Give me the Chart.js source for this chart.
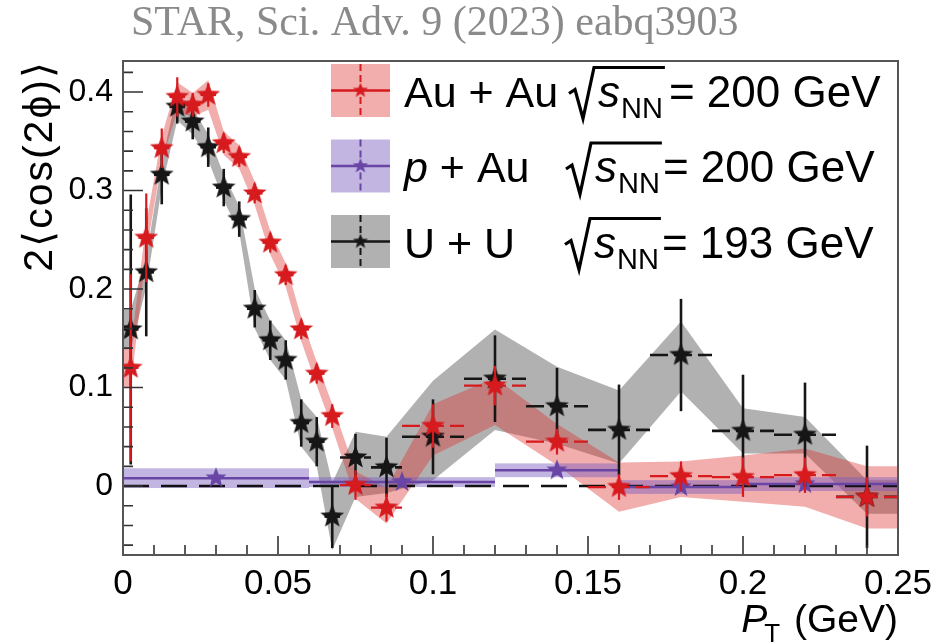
<!DOCTYPE html>
<html>
<head>
<meta charset="utf-8">
<script src="https://cdn.jsdelivr.net/npm/chart.js@4.4.0/dist/chart.umd.min.js"></script>
<style>
  html, body { margin: 0; padding: 0; background: #fff; }
  #wrap { width: 948px; height: 644px; }
</style>
</head>
<body>
<div id="wrap"><canvas id="grafico" width="948" height="644"></canvas></div>
<script>
// pT bins (GeV) shared by Au+Au and U+U
const pT = [0.0025, 0.0075, 0.0125, 0.0175, 0.0225, 0.0275, 0.0325, 0.0375, 0.0425, 0.0475,
  0.0525, 0.0575, 0.0625, 0.0675, 0.075, 0.085, 0.1, 0.12, 0.14, 0.16, 0.18, 0.2, 0.22, 0.24];
const pTErr = [0.0025, 0.0025, 0.0025, 0.0025, 0.0025, 0.0025, 0.0025, 0.0025, 0.0025, 0.0025,
  0.0025, 0.0025, 0.0025, 0.0025, 0.005, 0.005, 0.01, 0.01, 0.01, 0.01, 0.01, 0.01, 0.01, 0.01];

// Au+Au 200 GeV
const auau = [0.120, 0.252, 0.343, 0.395, 0.387, 0.397, 0.348, 0.334, 0.297, 0.247,
  0.214, 0.159, 0.114, 0.071, 0.001, -0.022, 0.061, 0.102, 0.045, -0.001, 0.010, 0.009, 0.011, -0.011];
const auauStat = [0.095, 0.045, 0.02, 0.02, 0.012, 0.012, 0.01, 0.01, 0.01, 0.01,
  0.01, 0.01, 0.01, 0.012, 0.015, 0.014, 0.022, 0.02, 0.013, 0.013, 0.015, 0.02, 0.018, 0.02];
const auauSysUp = [0.02, 0.015, 0.012, 0.015, 0.012, 0.015, 0.012, 0.012, 0.012, 0.012,
  0.012, 0.012, 0.012, 0.012, 0.014, 0.02, 0.022, 0.008, 0.018, 0.025, 0.015, 0.022, 0.027, 0.031];
const auauSysDown = [0.02, 0.015, 0.012, 0.015, 0.012, 0.015, 0.012, 0.012, 0.012, 0.012,
  0.012, 0.012, 0.012, 0.012, 0.014, 0.016, 0.03, 0.04, 0.024, 0.025, 0.021, 0.025, 0.032, 0.032];

// U+U 193 GeV
const uu = [0.159, 0.217, 0.316, 0.385, 0.370, 0.344, 0.303, 0.271, 0.180, 0.148,
  0.128, 0.064, 0.045, -0.031, 0.029, 0.019, 0.050, 0.109, 0.081, 0.057, 0.133, 0.056, 0.052, -0.011];
const uuStat = [0.137, 0.065, 0.03, 0.017, 0.018, 0.02, 0.019, 0.018, 0.019, 0.02,
  0.02, 0.024, 0.025, 0.032, 0.024, 0.03, 0.038, 0.044, 0.039, 0.046, 0.057, 0.057, 0.053, 0.052];
const uuSysUp = [0.02, 0.015, 0.013, 0.014, 0.013, 0.013, 0.013, 0.013, 0.02, 0.02,
  0.02, 0.024, 0.025, 0.034, 0.026, 0.031, 0.057, 0.05, 0.04, 0.04, 0.034, 0.023, 0.018, 0.017];
const uuSysDown = [0.02, 0.015, 0.013, 0.014, 0.013, 0.013, 0.013, 0.013, 0.02, 0.02,
  0.02, 0.024, 0.025, 0.034, 0.04, 0.026, 0.044, 0.052, 0.038, 0.034, 0.037, 0.023, 0.019, 0.017];

// p+Au 200 GeV, wide bins
const pAuX = [0.03, 0.09, 0.14, 0.18, 0.22];
const pAuLo = [0, 0.06, 0.12, 0.16, 0.2];
const pAuHi = [0.06, 0.12, 0.16, 0.2, 0.25];
const pAu = [0.008, 0.004, 0.016, -0.001, 0.002];
const pAuStat = [0.004, 0.004, 0.005, 0.005, 0.005];
const pAuSys = [0.01, 0.005, 0.007, 0.007, 0.007];

const xTicks = [0, 0.05, 0.1, 0.15, 0.2, 0.25];
const xTickLabels = ['0', '0.05', '0.1', '0.15', '0.2', '0.25'];
const yTicks = [0, 0.1, 0.2, 0.3, 0.4];
const yTickLabels = ['0', '0.1', '0.2', '0.3', '0.4'];

const vermelho = 'rgb(214,26,30)';
const roxo = 'rgb(105,70,165)';
const preto = 'rgb(22,22,22)';
const rosaBanda = 'rgba(220,40,40,0.38)';
const cinzaBanda = 'rgba(100,100,100,0.5)';
const roxoBanda = 'rgba(120,90,190,0.45)';
const fonte = '"Liberation Sans", Arial, Helvetica, sans-serif';

Chart.defaults.font.family = fonte;
Chart.defaults.color = '#000';

// estrela de 5 pontas usada como marcador
function estrela(cor, r) {
  const c = document.createElement('canvas');
  const s = Math.ceil(2 * r + 2);
  c.width = s;
  c.height = s;
  const g = c.getContext('2d');
  g.translate(s / 2, s / 2);
  g.beginPath();
  for (let i = 0; i < 10; i++) {
    const rr = i % 2 === 0 ? r : r * 0.42;
    const a = -Math.PI / 2 + i * Math.PI / 5;
    g.lineTo(rr * Math.cos(a), rr * Math.sin(a));
  }
  g.closePath();
  g.fillStyle = cor;
  g.fill();
  return c;
}

// banda sistematica, estendida ate as bordas do primeiro e ultimo bin
function banda(x, xe, y, up, down) {
  const n = x.length;
  const xs = [x[0] - xe[0]].concat(x, [x[n - 1] + xe[n - 1]]);
  const idx = [0].concat(x.map((v, i) => i), [n - 1]);
  return {
    alto: xs.map((v, k) => ({ x: v, y: y[idx[k]] + up[idx[k]] })),
    baixo: xs.map((v, k) => ({ x: v, y: y[idx[k]] - down[idx[k]] })),
  };
}

const bandaAu = banda(pT, pTErr, auau, auauSysUp, auauSysDown);
const bandaUU = banda(pT, pTErr, uu, uuSysUp, uuSysDown);

const pontos = (x, y) => x.map((v, i) => ({ x: v, y: y[i] }));

// barras de erro por dataset
const erros = {
  0: { x: pT, xe: pTErr, y: auau, ye: auauStat, cor: vermelho, largura: 2.2 },
  1: { x: pT, xe: pTErr, y: uu, ye: uuStat, cor: preto, largura: 2.6 },
};

function desenhaErros(ctx, xs, ys, e) {
  ctx.strokeStyle = e.cor;
  ctx.lineWidth = e.largura;
  e.x.forEach((v, i) => {
    const px = xs.getPixelForValue(v);
    const py = ys.getPixelForValue(e.y[i]);
    ctx.setLineDash([]);
    ctx.beginPath();
    ctx.moveTo(px, ys.getPixelForValue(e.y[i] + e.ye[i]));
    ctx.lineTo(px, ys.getPixelForValue(e.y[i] - e.ye[i]));
    ctx.stroke();
    ctx.setLineDash([18, 6]);
    ctx.beginPath();
    ctx.moveTo(xs.getPixelForValue(v - e.xe[i]), py);
    ctx.lineTo(xs.getPixelForValue(v + e.xe[i]), py);
    ctx.stroke();
  });
  ctx.setLineDash([]);
}

const barrasErro = {
  id: 'barrasErro',
  beforeDatasetDraw(chart, args) {
    const { ctx, chartArea: a, scales: { x, y } } = chart;
    ctx.save();
    ctx.beginPath();
    ctx.rect(a.left, a.top, a.width, a.height);
    ctx.clip();
    if (args.index === 2) {
      // caixas p+Au, linha do zero e barras
      ctx.fillStyle = roxoBanda;
      pAuX.forEach((v, i) => {
        const x0 = x.getPixelForValue(pAuLo[i]);
        const x1 = x.getPixelForValue(pAuHi[i]);
        const y0 = y.getPixelForValue(pAu[i] + pAuSys[i]);
        const y1 = y.getPixelForValue(pAu[i] - pAuSys[i]);
        ctx.fillRect(x0, y0, x1 - x0, y1 - y0);
      });
      ctx.strokeStyle = '#111';
      ctx.lineWidth = 2.5;
      ctx.setLineDash([26, 12]);
      ctx.beginPath();
      ctx.moveTo(a.left, y.getPixelForValue(0));
      ctx.lineTo(a.right, y.getPixelForValue(0));
      ctx.stroke();
      ctx.setLineDash([]);
      ctx.strokeStyle = roxo;
      ctx.lineWidth = 2.5;
      pAuX.forEach((v, i) => {
        const py = y.getPixelForValue(pAu[i]);
        ctx.beginPath();
        ctx.moveTo(x.getPixelForValue(pAuLo[i]), py);
        ctx.lineTo(x.getPixelForValue(pAuHi[i]), py);
        ctx.moveTo(x.getPixelForValue(v), y.getPixelForValue(pAu[i] + pAuStat[i]));
        ctx.lineTo(x.getPixelForValue(v), y.getPixelForValue(pAu[i] - pAuStat[i]));
        ctx.stroke();
      });
    } else if (erros[args.index]) {
      desenhaErros(ctx, x, y, erros[args.index]);
    }
    ctx.restore();
  },
};

// moldura, tracos dos eixos, titulos e legenda
function radical(ctx, x, base, fim) {
  ctx.beginPath();
  ctx.moveTo(x, base - 13);
  ctx.lineTo(x + 6, base - 17);
  ctx.lineTo(x + 14, base + 12);
  ctx.lineTo(x + 25, base - 39);
  ctx.lineTo(fim, base - 39);
  ctx.stroke();
}

const legendaLinhas = [
  { cor: vermelho, caixa: rosaBanda, partes: [['Au + Au', false]], energia: '= 200 GeV', cy: 90.5, rx: 569, gap: 6 },
  { cor: roxo, caixa: roxoBanda, partes: [['p', true], [' + Au', false]], energia: '= 200 GeV', cy: 166, rx: 566, gap: 3 },
  { cor: preto, caixa: cinzaBanda, partes: [['U + U', false]], energia: '= 193 GeV', cy: 241.5, rx: 565, gap: 3 },
];

const decoracao = {
  id: 'decoracao',
  afterDraw(chart) {
    const { ctx, chartArea: a, scales: { x, y } } = chart;
    ctx.save();

    // tracos para dentro
    ctx.strokeStyle = '#333';
    ctx.lineWidth = 1.6;
    ctx.beginPath();
    for (let v = -0.06; v <= 0.42 + 1e-9; v += 0.02) {
      const major = Math.abs(v * 10 - Math.round(v * 10)) < 1e-6;
      const py = y.getPixelForValue(v);
      ctx.moveTo(a.left, py);
      ctx.lineTo(a.left + (major ? 20 : 10), py);
    }
    for (let v = 0.01; v < 0.25 - 1e-9; v += 0.01) {
      const major = Math.abs(v * 20 - Math.round(v * 20)) < 1e-6;
      const px = x.getPixelForValue(v);
      ctx.moveTo(px, a.bottom);
      ctx.lineTo(px, a.bottom - (major ? 19 : 10));
    }
    ctx.stroke();

    ctx.strokeStyle = '#555';
    ctx.lineWidth = 2;
    ctx.strokeRect(a.left, a.top, a.width, a.height);

    // titulo do eixo y
    ctx.fillStyle = '#000';
    ctx.save();
    ctx.translate(41, a.top - 1);
    ctx.rotate(-Math.PI / 2);
    ctx.font = '41px ' + fonte;
    ctx.letterSpacing = '2px';
    ctx.textAlign = 'right';
    ctx.textBaseline = 'middle';
    ctx.fillText('2\u27E8cos(2\u03D5)\u27E9', 0, 0);
    ctx.restore();

    // titulo do eixo x
    ctx.textBaseline = 'alphabetic';
    ctx.textAlign = 'left';
    ctx.font = 'italic 39px ' + fonte;
    const wP = ctx.measureText('P').width;
    ctx.font = '26px ' + fonte;
    const wT = ctx.measureText('T').width;
    ctx.font = '39px ' + fonte;
    const wG = ctx.measureText(' (GeV)').width;
    let tx = a.right - (wP + wT + wG);
    ctx.font = 'italic 39px ' + fonte;
    ctx.fillText('P', tx, 632);
    tx += wP;
    ctx.font = '26px ' + fonte;
    ctx.fillText('T', tx - 3, 642);
    tx += wT;
    ctx.font = '39px ' + fonte;
    ctx.fillText(' (GeV)', tx, 632);

    // referencia no topo
    ctx.font = '42px "Liberation Serif", "Times New Roman", serif';
    ctx.fillStyle = '#8a8a8a';
    ctx.fillText('STAR, Sci. Adv. 9 (2023) eabq3903', 131, 35);

    // legenda
    legendaLinhas.forEach((l) => {
      const bx = 331, bw = 59, bh = 53;
      const cx = bx + bw / 2;
      ctx.fillStyle = l.caixa;
      ctx.fillRect(bx, l.cy - bh / 2, bw, bh);
      ctx.strokeStyle = l.cor;
      ctx.lineWidth = 2.5;
      ctx.beginPath();
      ctx.moveTo(bx, l.cy);
      ctx.lineTo(bx + bw, l.cy);
      ctx.stroke();
      ctx.setLineDash([7, 4]);
      ctx.lineWidth = 2;
      ctx.beginPath();
      ctx.moveTo(cx, l.cy - bh / 2);
      ctx.lineTo(cx, l.cy + bh / 2);
      ctx.stroke();
      ctx.setLineDash([]);
      const m = estrela(l.cor, 8);
      ctx.drawImage(m, cx - m.width / 2, l.cy - m.height / 2);

      const base = l.cy + 16;
      ctx.fillStyle = '#000';
      let px = 404;
      l.partes.forEach(([t, it]) => {
        ctx.font = (it ? 'italic ' : '') + '43px ' + fonte;
        ctx.fillText(t, px, base);
        px += ctx.measureText(t).width;
      });
      const rx = l.rx;
      ctx.font = 'italic 44px ' + fonte;
      ctx.fillText('s', rx + 29, base);
      let sx = rx + 29 + ctx.measureText('s').width + 1;
      ctx.font = '29px ' + fonte;
      ctx.fillText('NN', sx, base + 11);
      sx += ctx.measureText('NN').width;
      ctx.strokeStyle = '#000';
      ctx.lineWidth = 3.2;
      radical(ctx, rx, base, sx + 2);
      ctx.font = '44px ' + fonte;
      ctx.fillText(l.energia, sx + l.gap, base);
    });
    ctx.restore();
  },
};

const ctx = document.getElementById('grafico');

new Chart(ctx, {
  type: 'line',
  data: {
    datasets: [
      {
        label: 'Au + Au',
        data: pontos(pT, auau),
        showLine: false,
        pointStyle: estrela(vermelho, 12.5),
        pointRadius: 12,
        order: 1,
      },
      {
        label: 'U + U',
        data: pontos(pT, uu),
        showLine: false,
        pointStyle: estrela(preto, 12.5),
        pointRadius: 12,
        order: 2,
      },
      {
        label: 'p + Au',
        data: pontos(pAuX, pAu),
        showLine: false,
        pointStyle: estrela(roxo, 11),
        pointRadius: 11,
        order: 3,
      },
      {
        label: 'Au + Au sist. alto',
        data: bandaAu.alto,
        borderWidth: 0,
        borderColor: 'rgba(0,0,0,0)',
        pointRadius: 0,
        fill: false,
        order: 4,
      },
      {
        label: 'Au + Au sist. baixo',
        data: bandaAu.baixo,
        borderWidth: 0,
        borderColor: 'rgba(0,0,0,0)',
        backgroundColor: rosaBanda,
        pointRadius: 0,
        fill: '-1',
        order: 4,
      },
      {
        label: 'U + U sist. alto',
        data: bandaUU.alto,
        borderWidth: 0,
        borderColor: 'rgba(0,0,0,0)',
        pointRadius: 0,
        fill: false,
        order: 5,
      },
      {
        label: 'U + U sist. baixo',
        data: bandaUU.baixo,
        borderWidth: 0,
        borderColor: 'rgba(0,0,0,0)',
        backgroundColor: cinzaBanda,
        pointRadius: 0,
        fill: '-1',
        order: 5,
      },
    ],
  },
  options: {
    responsive: false,
    animation: false,
    events: [],
    layout: { padding: { top: 61, right: 50, left: 0, bottom: 0 } },
    plugins: {
      legend: { display: false },
      tooltip: { enabled: false },
      title: { display: false },
    },
    scales: {
      x: {
        type: 'linear',
        min: 0,
        max: 0.25,
        grid: { display: false, drawTicks: false },
        border: { display: false },
        afterBuildTicks: (s) => { s.ticks = xTicks.map((v) => ({ value: v })); },
        afterFit: (s) => { s.height = 89; },
        ticks: {
          padding: 8,
          maxRotation: 0,
          autoSkip: false,
          font: { size: 35 },
          callback: (v, i) => xTickLabels[i],
        },
      },
      y: {
        type: 'linear',
        min: -0.07,
        max: 0.4315,
        grid: { display: false, drawTicks: false },
        border: { display: false },
        afterBuildTicks: (s) => { s.ticks = yTicks.map((v) => ({ value: v })); },
        afterFit: (s) => { s.width = 123; },
        ticks: {
          padding: 10,
          autoSkip: false,
          font: { size: 32 },
          callback: (v, i) => yTickLabels[i],
        },
      },
    },
  },
  plugins: [barrasErro, decoracao],
});
</script>
</body>
</html>
